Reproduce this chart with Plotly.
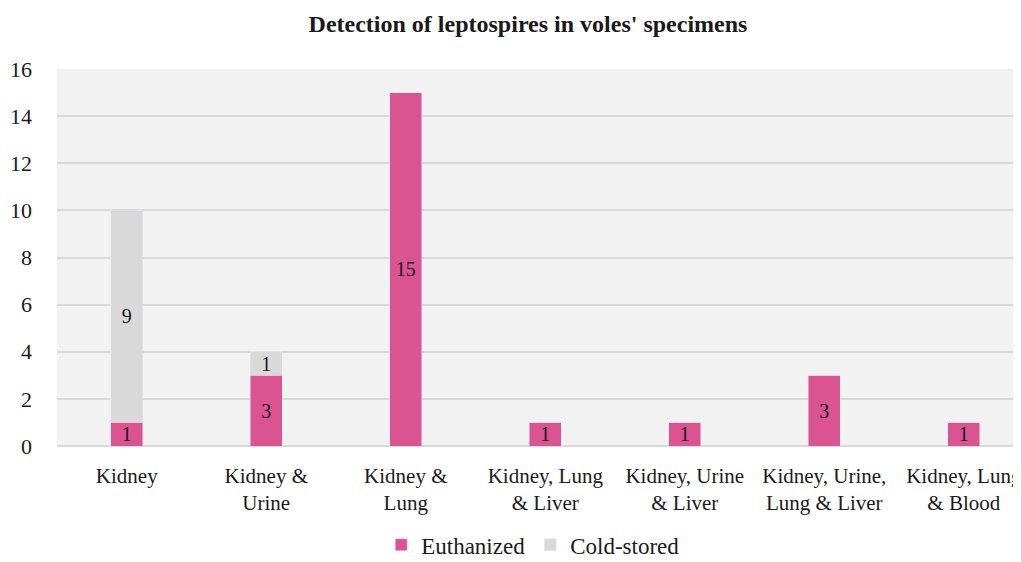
import plotly.graph_objects as go

categories = ["Kidney", "Kidney &<br>Urine", "Kidney &<br>Lung", "Kidney, Lung<br>& Liver",
              "Kidney, Urine<br>& Liver", "Kidney, Urine,<br>Lung & Liver", "Kidney, Lung<br>& Blood"]
euthanized = [1, 3, 15, 1, 1, 3, 1]
cold_stored = [9, 1, 0, 0, 0, 0, 0]

FONT = "Palatino Linotype, Book Antiqua, Palatino, P052, URW Palladio L, Liberation Serif, serif"
PINK = "#DA5491"
GRAY = "#D9D9D9"
TXT = "#1a1a1a"

# page body has an 8px default margin; figure sized to fill the rest of the window
W, H = 1013, 554

def labels(vals):
    return [str(v) if v else "" for v in vals]

fig = go.Figure()
fig.add_trace(go.Bar(x=categories, y=euthanized, name="Euthanized", marker_color=PINK,
                     text=labels(euthanized), textposition="inside", insidetextanchor="middle",
                     textangle=0, cliponaxis=False,
                     textfont=dict(family=FONT, size=20, color=TXT), constraintext="none"))
fig.add_trace(go.Bar(x=categories, y=cold_stored, name="Cold-stored", marker_color=GRAY,
                     text=labels(cold_stored), textposition="inside", insidetextanchor="middle",
                     textangle=0, cliponaxis=False,
                     textfont=dict(family=FONT, size=20, color=TXT), constraintext="none"))

fig.update_layout(
    width=W, height=H,
    barmode="stack", bargap=0.77,
    paper_bgcolor="white", plot_bgcolor="#F2F2F2",
    margin=dict(l=49, r=0, t=61, b=116, autoexpand=False),
    font=dict(family=FONT, size=20, color=TXT),
    title=dict(text="<b>Detection of leptospires in voles' specimens</b>",
               font=dict(family=FONT, size=24, color=TXT),
               xref="container", x=520/W, xanchor="center",
               yref="container", y=1-16/H, yanchor="middle"),
    legend=dict(orientation="h", x=0.494, xanchor="center", y=-0.262, yanchor="middle",
                font=dict(family="Liberation Serif, serif", size=23, color=TXT), bgcolor="rgba(0,0,0,0)",
                traceorder="normal", itemwidth=30),
    uniformtext=dict(mode=False),
)
fig.update_xaxes(range=[-0.5, 6.41], showgrid=False, tickfont=dict(size=21, family=FONT, color=TXT),
                 ticklabelstandoff=15, showline=False, zeroline=False, automargin=False)
fig.update_yaxes(range=[0, 16], dtick=2, showgrid=True, gridcolor="#D9D9D9", gridwidth=1.5,
                 zeroline=True, zerolinecolor="#D9D9D9", zerolinewidth=1.5, automargin=False,
                 tickfont=dict(size=22, family=FONT, color=TXT), ticklabelstandoff=24)

fig.write_html("out.html")
